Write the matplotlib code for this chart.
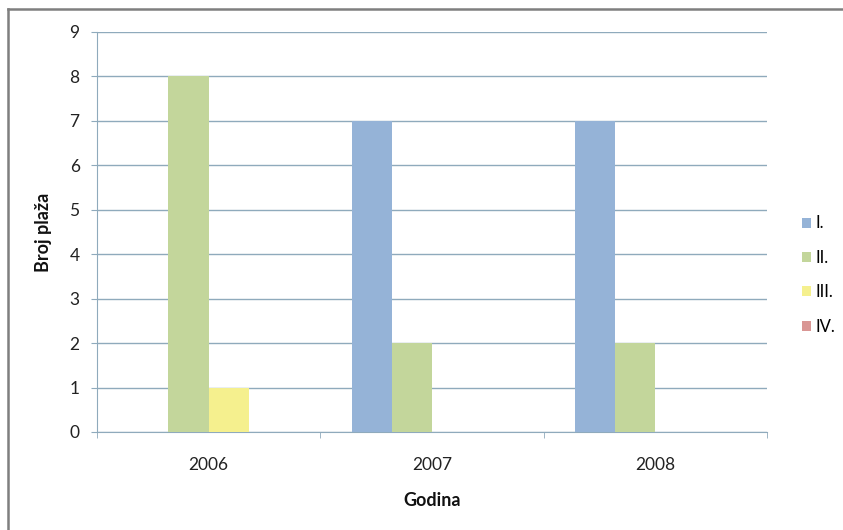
import matplotlib
matplotlib.use("Agg")
import matplotlib.pyplot as plt
import numpy as np
from matplotlib.patches import Patch
from matplotlib.lines import Line2D

years = ["2006", "2007", "2008"]
series = ["I.", "II.", "III.", "IV."]
vals_I = [0, 7, 7]
vals_II = [8, 2, 2]
vals_III = [1, 0, 0]
vals_IV = [0, 0, 0]
yticks = list(range(0, 10))

colors = ["#95B3D7", "#C3D69B", "#F5F08E", "#D99694"]
grid_c = "#8FAABC"

plt.rcParams['font.family'] = ['Lato', 'DejaVu Sans']

fig = plt.figure(figsize=(8.43, 5.30), dpi=100)
ax = fig.add_axes([97/843, 1-432/530, (767-97)/843, 400/530])

x = np.arange(len(years))
w = 0.18
data = [vals_I, vals_II, vals_III, vals_IV]
for i, (d, c) in enumerate(zip(data, colors)):
    ax.bar(x + (i - 1.5) * w, d, width=w, color=c, zorder=3, linewidth=0)

ax.set_xlim(-0.5, 2.5)
ax.set_ylim(0, 9)
ax.set_yticks(yticks)
ax.set_yticklabels([str(t) for t in yticks], fontsize=12.5, color="#222222")
ax.yaxis.grid(True, color=grid_c, linewidth=1.0, zorder=0)
for s in ["top", "right"]:
    ax.spines[s].set_visible(False)
ax.spines["left"].set_color(grid_c)
ax.spines["bottom"].set_color(grid_c)
ax.tick_params(axis="y", length=4, color=grid_c, pad=8.5)

ax.set_xticks(x)
ax.set_xticklabels(years, fontsize=12.5, color="#222222")
ax.set_xticks([-0.5, 0.5, 1.5, 2.5], minor=True)
ax.tick_params(axis="x", which="major", length=0, pad=18)
ax.tick_params(axis="x", which="minor", length=4, color=grid_c)

fig.text(44/843, 1-232/530, "Broj plaža", fontsize=13, fontweight="bold",
         ha="center", va="center", rotation=90, color="#111111")
fig.text(432/843, 1-501/530, "Godina", fontsize=13, fontweight="bold",
         ha="center", va="center", color="#111111")

handles = [Patch(facecolor=c, edgecolor="none") for c in colors]
leg = fig.legend(handles, series, loc="center left",
                 bbox_to_anchor=(790/843, 1-275/530), frameon=False,
                 fontsize=12, handlelength=0.55, handleheight=0.55,
                 handletextpad=0.3, labelspacing=1.1, borderpad=0.2)

# outer frame (top and left edges visible)
fig.add_artist(Line2D([8/843, 8/843], [0, 1-9/530], transform=fig.transFigure,
                      color="#7F7F7F", linewidth=1.8))
fig.add_artist(Line2D([8/843, 1], [1-9/530, 1-9/530], transform=fig.transFigure,
                      color="#7F7F7F", linewidth=1.8))

fig.savefig("out.png", dpi=100)
